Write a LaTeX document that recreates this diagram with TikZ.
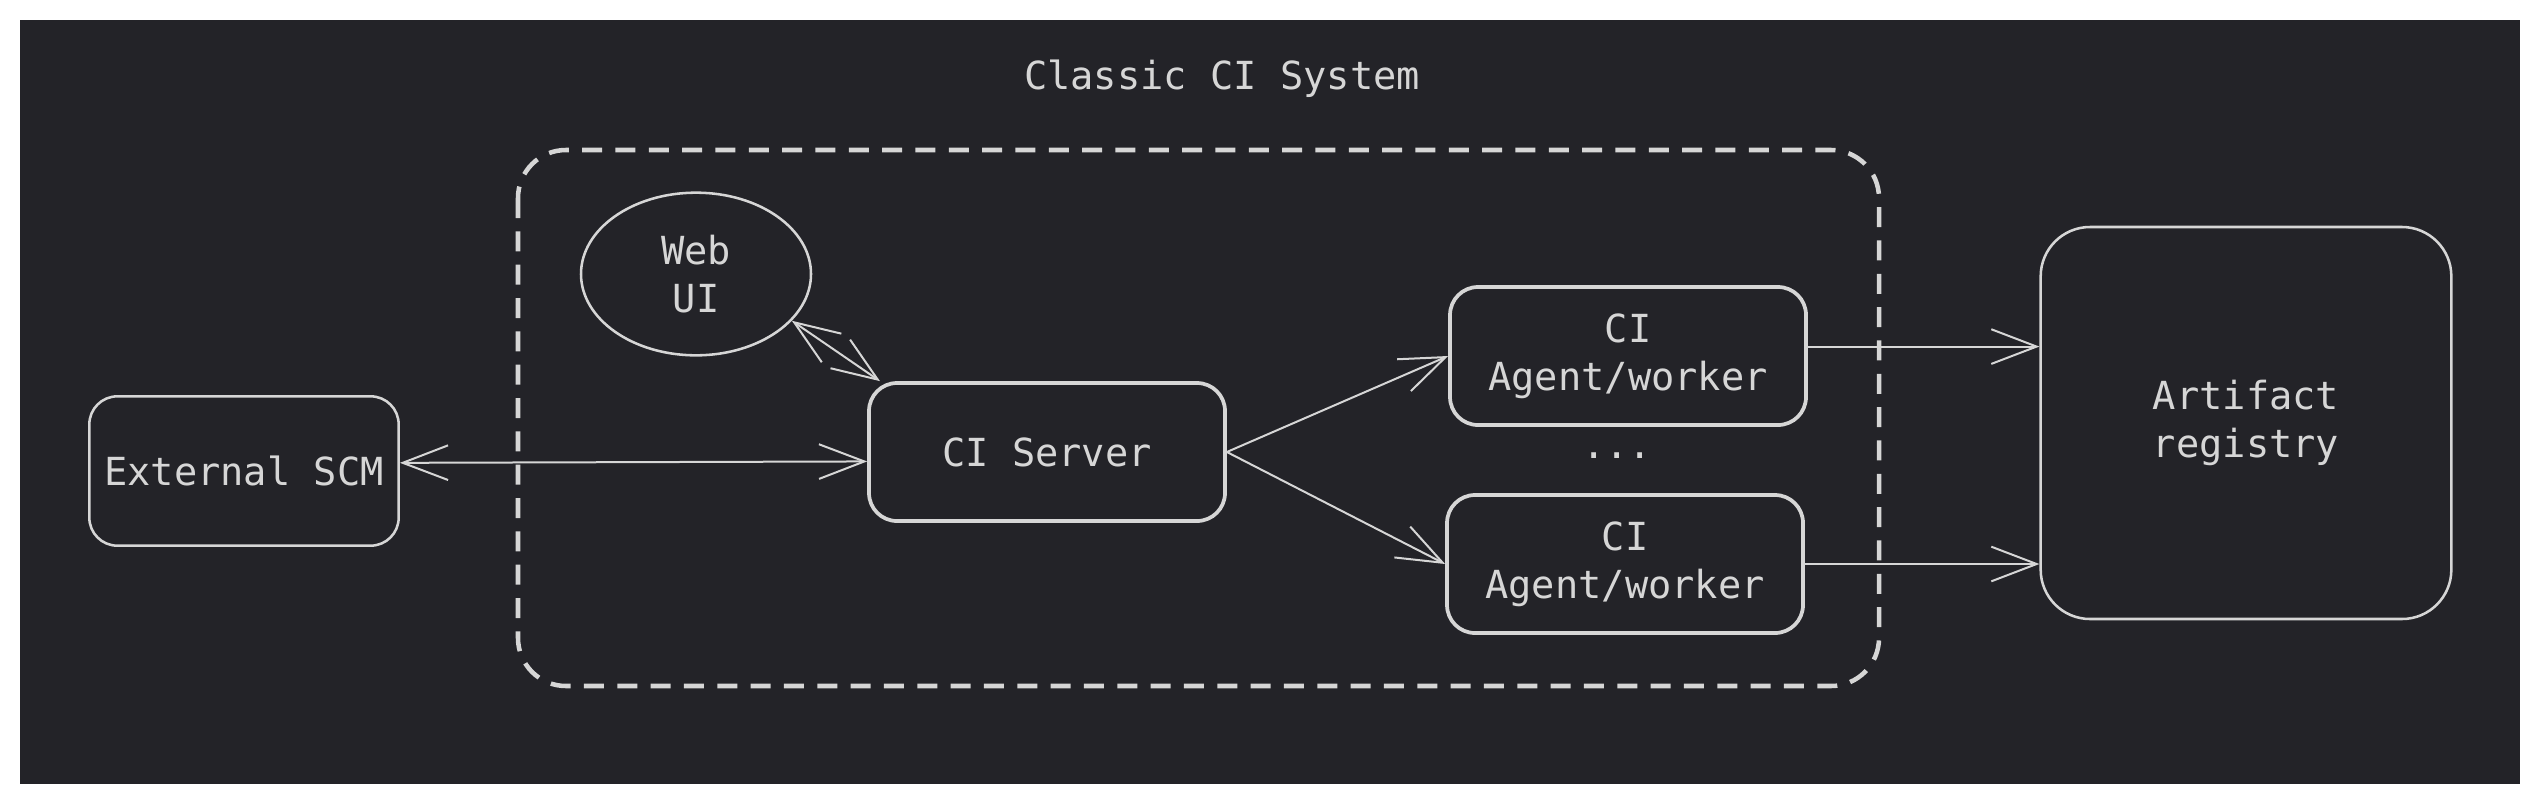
\documentclass[tikz,border=0pt]{standalone}
\usepackage{fontspec}
\setmonofont{DejaVu Sans Mono}
\usetikzlibrary{arrows.meta,shapes.geometric}
\definecolor{canvas}{RGB}{35,35,40}
\definecolor{ink}{RGB}{214,214,214}
\tikzset{
  txt/.style={text=ink, align=center, inner sep=0pt, font=\ttfamily\fontsize{29}{36}\selectfont},
  thinbox/.style={txt, draw=ink, line width=1.9pt, rounded corners=21pt},
  thickbox/.style={txt, draw=ink, line width=2.8pt, rounded corners=21pt},
  link/.style={draw=ink, line width=1.5pt},
  >={Straight Barb[length=34pt,width=26pt]}
}
\begin{document}
\begin{tikzpicture}[x=0.75pt,y=0.75pt,yscale=-1,xscale=1]
\useasboundingbox (0,0) rectangle (2540,804);

%Background
\fill [canvas] (20,20) rectangle (2520,784);
%Dashed Group
\draw [ink, line width=3.4pt, dash pattern=on 15pt off 10pt, rounded corners=36pt] (518,150) rectangle (1879,686);

% Text Node
\node [txt] (title) at (1222,79) {Classic CI System};
%Ellipse
\node [txt, draw=ink, ellipse, line width=1.9pt, minimum width=172.5pt, minimum height=122pt] (webui) at (696,274) {Web\\UI};
%Rounded Rect
\node [thinbox, minimum width=232pt, minimum height=112pt] (scm) at (244,471) {External SCM};
%Rounded Rect
\node [thickbox, minimum width=267pt, minimum height=103.5pt] (server) at (1047,452) {CI Server};
%Rounded Rect
\node [thickbox, minimum width=267pt, minimum height=103.5pt] (agentA) at (1628,356) {CI\\Agent/worker};
%Rounded Rect
\node [thickbox, minimum width=267pt, minimum height=103.5pt] (agentB) at (1625,564) {CI\\Agent/worker};
% Text Node
\node [txt] (dots) at (1617,456) {...};
%Rounded Rect
\node [thinbox, rounded corners=37pt, minimum width=308pt, minimum height=294pt] (registry) at (2246,423) {Artifact\\registry};

%Straight Lines
\draw [link, <->] (scm.3) -- (server.183);
\draw [link, <->] (webui.-26) -- (server.157);
\draw [link, ->] (server.east) -- (agentA.west);
\draw [link, ->] (server.east) -- (agentB.west);
\draw [link, ->] (agentA.3) -- (agentA.3 -| registry.west);
\draw [link, ->] (agentB.east) -- (agentB.east -| registry.west);

\end{tikzpicture}
\end{document}
